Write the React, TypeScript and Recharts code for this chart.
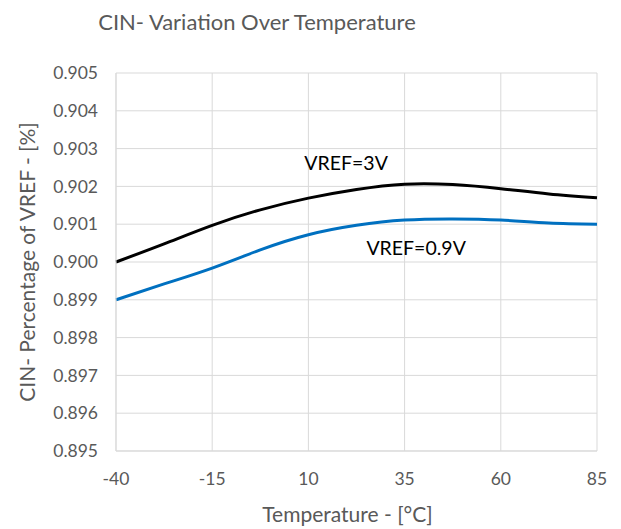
import React from "react";
import { LineChart, Line, XAxis, YAxis, CartesianGrid, ReferenceDot, Label } from "recharts";

const temps = [-40, -27.5, -15, -2.5, 10, 22.5, 35, 47.5, 60, 72.5, 85];
const vref3 = [0.9, 0.90048, 0.90097, 0.90138, 0.90169, 0.90192, 0.90206, 0.90205, 0.90194, 0.90180, 0.9017];
const vref09 = [0.899, 0.89942, 0.89984, 0.90032, 0.90072, 0.90097, 0.90111, 0.90114, 0.90111, 0.90103, 0.901];
const xTicks = [-40, -15, 10, 35, 60, 85];
const yTicks = [0.895, 0.896, 0.897, 0.898, 0.899, 0.9, 0.901, 0.902, 0.903, 0.904, 0.905];

const data = temps.map((t, i) => ({ t, a: vref3[i], b: vref09[i] }));

const FONT = "Lato, 'Open Sans', sans-serif";
const GREY = "#595959";

export default function App() {
  return (
    <div style={{ position: "absolute", left: 0, top: 0, width: 621, height: 529, background: "#fff", fontFamily: FONT }}>
      <div style={{ position: "absolute", left: 0, top: 8, width: 514, textAlign: "center", fontSize: 22, color: GREY, fontFamily: FONT }}>
        CIN- Variation Over Temperature
      </div>
      <LineChart width={621} height={529} data={data} margin={{ top: 73, right: 24, left: 56, bottom: 18 }}>
        <CartesianGrid stroke="#d9d9d9" vertical horizontal />
        <XAxis
          dataKey="t"
          type="number"
          domain={[-40, 85]}
          ticks={xTicks}
          height={60}
          axisLine={{ stroke: "#d9d9d9" }}
          tickLine={false}
          tickSize={0}
          tickMargin={22}
          tick={{ fill: GREY, fontSize: 17.5, fontFamily: FONT }}
        >
          <Label value="Temperature - [°C]" position="insideBottom" offset={-11} dx={-9} fill={GREY} fontSize={21} fontFamily={FONT} />
        </XAxis>
        <YAxis
          type="number"
          domain={[0.895, 0.905]}
          ticks={yTicks}
          width={60}
          axisLine={{ stroke: "#d9d9d9" }}
          tickLine={false}
          tickSize={0}
          tickMargin={18}
          tickFormatter={(v: number) => v.toFixed(3)}
          tick={{ fill: GREY, fontSize: 17.5, fontFamily: FONT }}
          interval={0}
        >
          <Label value="CIN- Percentage of VREF - [%]" angle={-90} position="insideLeft" offset={-28} fill={GREY} fontSize={21} fontFamily={FONT} style={{ textAnchor: "middle" }} />
        </YAxis>
        <Line type="natural" dataKey="a" stroke="#000000" strokeWidth={3} dot={false} isAnimationActive={false} />
        <Line type="natural" dataKey="b" stroke="#0070C0" strokeWidth={3} dot={false} isAnimationActive={false} />
        <ReferenceDot x={19.8} y={0.90262} r={0} fill="none" stroke="none">
          <Label value="VREF=3V" position="center" fill="#000" fontSize={19.5} fontFamily={FONT} />
        </ReferenceDot>
        <ReferenceDot x={38} y={0.90037} r={0} fill="none" stroke="none">
          <Label value="VREF=0.9V" position="center" fill="#000" fontSize={19.5} fontFamily={FONT} />
        </ReferenceDot>
      </LineChart>
    </div>
  );
}
